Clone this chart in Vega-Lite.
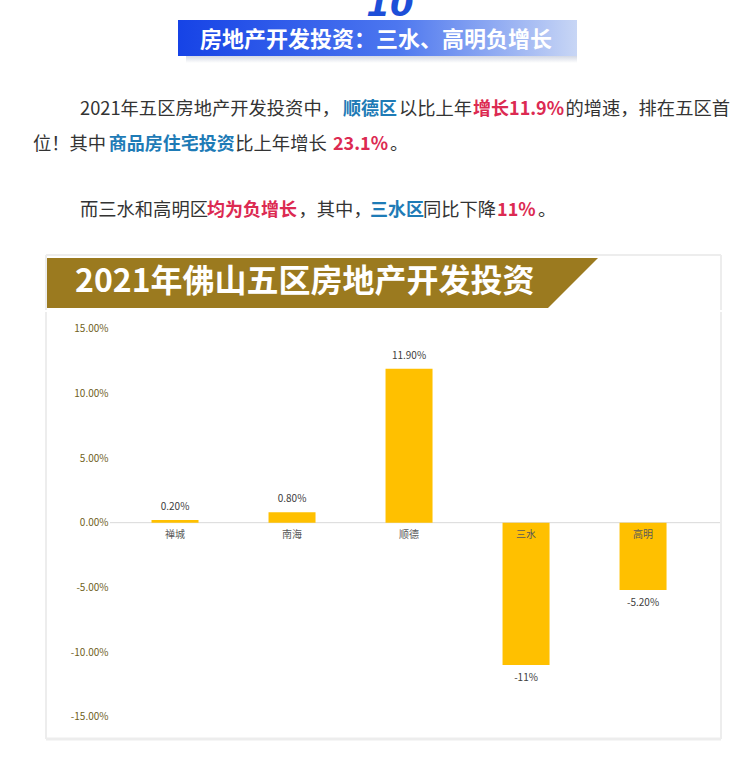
{
  "$schema": "https://vega.github.io/schema/vega-lite/v6.json",
  "padding": 0,
  "spacing": 0,
  "background": "white",
  "config": {"view": {"stroke": null}, "concat": {"spacing": 0}},
  "datasets": {
    "one": [{}],
    "para": [
      {"line": 1, "col": 0, "tone": "plain", "text": "2021年五区房地产开发投资中，"},
      {"line": 1, "col": 14.14, "tone": "blue", "text": "顺德区"},
      {"line": 1, "col": 17.15, "tone": "plain", "text": "以比上年"},
      {"line": 1, "col": 21.13, "tone": "red", "text": "增长11.9%"},
      {"line": 1, "col": 26.1, "tone": "plain", "text": "的增速，排在五区首"},
      {"line": 2, "col": -2.53, "tone": "plain", "text": "位！其中"},
      {"line": 2, "col": 1.55, "tone": "blue", "text": "商品房住宅投资"},
      {"line": 2, "col": 8.35, "tone": "plain", "text": "比上年增长"},
      {"line": 2, "col": 13.6, "tone": "red", "text": "23.1%"},
      {"line": 2, "col": 16.67, "tone": "plain", "text": "。"},
      {"line": 3, "col": 0, "tone": "plain", "text": "而三水和高明区"},
      {"line": 3, "col": 6.83, "tone": "red", "text": "均为负增长"},
      {"line": 3, "col": 11.75, "tone": "plain", "text": "，其中，"},
      {"line": 3, "col": 15.59, "tone": "blue", "text": "三水区"},
      {"line": 3, "col": 18.44, "tone": "plain", "text": "同比下降"},
      {"line": 3, "col": 22.42, "tone": "red", "text": "11%"},
      {"line": 3, "col": 24.62, "tone": "plain", "text": "。"}
    ],
    "invest": [
      {"district": "禅城", "value": 0.2, "label": "0.20%"},
      {"district": "南海", "value": 0.8, "label": "0.80%"},
      {"district": "顺德", "value": 11.9, "label": "11.90%"},
      {"district": "三水", "value": -11, "label": "-11%"},
      {"district": "高明", "value": -5.2, "label": "-5.20%"}
    ]
  },
  "vconcat": [
    {
      "width": 746,
      "height": 250,
      "layer": [
        {
          "data": {"name": "one"},
          "mark": {"type": "rect", "color": {"gradient": "linear", "x1": 0, "y1": 0, "x2": 0, "y2": 1, "stops": [{"offset": 0, "color": "#d3d8e4"}, {"offset": 1, "color": "#ffffff"}]}},
          "encoding": {"x": {"value": 186}, "x2": {"value": 577}, "y": {"value": 56}, "y2": {"value": 63}}
        },
        {
          "data": {"name": "one"},
          "mark": {"type": "rect", "color": {"gradient": "linear", "x1": 0, "y1": 0, "x2": 1, "y2": 0, "stops": [{"offset": 0, "color": "#1643e6"}, {"offset": 0.55, "color": "#4d77ef"}, {"offset": 1, "color": "#c8d6f5"}]}},
          "encoding": {"x": {"value": 178}, "x2": {"value": 577}, "y": {"value": 20}, "y2": {"value": 56}}
        },
        {
          "data": {"name": "one"},
          "mark": {"type": "text", "clip": true, "font": "DejaVu Sans", "fontSize": 34, "fontStyle": "italic", "fontWeight": "bold", "color": "#1d4fd8", "align": "center", "baseline": "alphabetic"},
          "encoding": {"x": {"value": 390}, "y": {"value": 16}, "text": {"value": "10"}}
        },
        {
          "data": {"name": "one"},
          "mark": {"type": "text", "font": "Noto Sans CJK SC", "fontSize": 22, "fontWeight": "bold", "color": "#ffffff", "align": "center", "baseline": "middle"},
          "encoding": {"x": {"value": 376}, "y": {"value": 40}, "text": {"value": "房地产开发投资：三水、高明负增长"}}
        },
        {
          "data": {"name": "para"},
          "transform": [{"filter": "datum.tone == 'plain'"}],
          "mark": {"type": "text", "font": "Noto Sans CJK SC", "fontSize": 18.3, "align": "left", "baseline": "middle", "color": "#333333"},
          "encoding": {
            "x": {"field": "col", "type": "quantitative", "scale": {"domain": [-4.301, 35.806], "range": [0, 746], "zero": false, "nice": false}, "axis": null},
            "y": {"field": "line", "type": "quantitative", "scale": {"domain": [1, 2, 3], "range": [110, 145, 211], "zero": false, "nice": false}, "axis": null},
            "text": {"field": "text"}
          }
        },
        {
          "data": {"name": "para"},
          "transform": [{"filter": "datum.tone != 'plain'"}],
          "mark": {"type": "text", "font": "Noto Sans CJK SC", "fontSize": 18, "fontWeight": "bold", "align": "left", "baseline": "middle"},
          "encoding": {
            "x": {"field": "col", "type": "quantitative", "scale": {"domain": [-4.301, 35.806], "range": [0, 746], "zero": false, "nice": false}, "axis": null},
            "y": {"field": "line", "type": "quantitative", "scale": {"domain": [1, 2, 3], "range": [110, 145, 211], "zero": false, "nice": false}, "axis": null},
            "color": {"field": "tone", "type": "nominal", "scale": {"domain": ["blue", "red"], "range": ["#1e7bb6", "#dc2a52"]}, "legend": null},
            "text": {"field": "text"}
          }
        }
      ]
    },
    {
      "width": 746,
      "height": 60,
      "layer": [
        {
          "data": {"name": "one"},
          "mark": {"type": "rule", "color": "#ededed", "strokeWidth": 2},
          "encoding": {"x": {"value": 46}, "x2": {"value": 721}, "y": {"value": 5}}
        },
        {
          "data": {"name": "one"},
          "mark": {"type": "rule", "color": "#ededed", "strokeWidth": 2},
          "encoding": {"x": {"value": 46}, "y": {"value": 5}, "y2": {"value": 60}}
        },
        {
          "data": {"name": "one"},
          "mark": {"type": "rule", "color": "#ededed", "strokeWidth": 2},
          "encoding": {"x": {"value": 721}, "y": {"value": 5}, "y2": {"value": 60}}
        },
        {
          "data": {"name": "one"},
          "mark": {"type": "point", "shape": "M0,0 L551,0 L501,50 L0,50 Z", "size": 4, "filled": true, "opacity": 1, "color": "#9b7a1f", "strokeWidth": 0},
          "encoding": {"x": {"value": 47}, "y": {"value": 8}}
        },
        {
          "data": {"name": "one"},
          "mark": {"type": "text", "font": "Noto Sans CJK SC", "fontSize": 32, "fontWeight": "bold", "color": "#ffffff", "align": "left", "baseline": "middle"},
          "encoding": {"x": {"value": 75}, "y": {"value": 32}, "text": {"value": "2021年佛山五区房地产开发投资"}}
        }
      ]
    },
    {
      "width": 746,
      "height": 474,
      "data": {"name": "invest"},
      "layer": [
        {
          "data": {"name": "one"},
          "mark": {"type": "rule", "color": "#ededed", "strokeWidth": 2},
          "encoding": {"x": {"value": 46}, "y": {"value": 0}, "y2": {"value": 427}}
        },
        {
          "data": {"name": "one"},
          "mark": {"type": "rule", "color": "#ededed", "strokeWidth": 2},
          "encoding": {"x": {"value": 721}, "y": {"value": 0}, "y2": {"value": 427}}
        },
        {
          "data": {"name": "one"},
          "mark": {"type": "rule", "color": "#ededed", "strokeWidth": 3},
          "encoding": {"x": {"value": 46}, "x2": {"value": 721}, "y": {"value": 427}}
        },
        {
          "data": {"name": "one"},
          "mark": {"type": "rule", "color": "#d9d9d9", "strokeWidth": 1},
          "encoding": {
            "x": {"value": 110}, "x2": {"value": 720},
            "y": {"datum": 0, "type": "quantitative", "scale": {"domain": [-20.36, 16.29], "nice": false, "zero": false}, "axis": {"values": [-15, -10, -5, 0, 5, 10, 15], "labelExpr": "replace(format(datum.value / 100, '.2%'), '−', '-')", "offset": -108, "domain": false, "ticks": false, "grid": false, "tickSize": 0, "labelPadding": 0, "title": null, "labelColor": "#6f5f1d", "labelFontSize": 10, "labelFont": "Noto Sans CJK SC", "minExtent": 0}}
          }
        },
        {
          "mark": {"type": "bar", "color": "#ffc000"},
          "encoding": {
            "x": {"field": "district", "type": "nominal", "sort": null, "scale": {"type": "band", "domain": ["禅城", "南海", "顺德", "三水", "高明"], "paddingInner": 0.5983, "paddingOuter": 0.987, "align": 0.656}, "axis": null},
            "y": {"field": "value", "type": "quantitative", "scale": {"domain": [-20.36, 16.29], "nice": false, "zero": false}, "axis": {"values": [-15, -10, -5, 0, 5, 10, 15], "labelExpr": "replace(format(datum.value / 100, '.2%'), '−', '-')", "offset": -108, "domain": false, "ticks": false, "grid": false, "tickSize": 0, "labelPadding": 0, "title": null, "labelColor": "#6f5f1d", "labelFontSize": 10, "labelFont": "Noto Sans CJK SC", "minExtent": 0}}
          }
        },
        {
          "mark": {"type": "text", "font": "Noto Sans CJK SC", "fontSize": 10, "color": "#595959", "baseline": "middle", "dy": 12},
          "encoding": {
            "x": {"field": "district", "type": "nominal", "sort": null, "scale": {"type": "band", "domain": ["禅城", "南海", "顺德", "三水", "高明"], "paddingInner": 0.5983, "paddingOuter": 0.987, "align": 0.656}, "axis": null},
            "y": {"datum": 0, "type": "quantitative", "scale": {"domain": [-20.36, 16.29], "nice": false, "zero": false}, "axis": {"values": [-15, -10, -5, 0, 5, 10, 15], "labelExpr": "replace(format(datum.value / 100, '.2%'), '−', '-')", "offset": -108, "domain": false, "ticks": false, "grid": false, "tickSize": 0, "labelPadding": 0, "title": null, "labelColor": "#6f5f1d", "labelFontSize": 10, "labelFont": "Noto Sans CJK SC", "minExtent": 0}},
            "text": {"field": "district"}
          }
        },
        {
          "transform": [{"filter": "datum.value > 0"}],
          "mark": {"type": "text", "font": "Noto Sans CJK SC", "fontSize": 10, "color": "#404040", "baseline": "middle", "dy": -13},
          "encoding": {
            "x": {"field": "district", "type": "nominal", "sort": null, "scale": {"type": "band", "domain": ["禅城", "南海", "顺德", "三水", "高明"], "paddingInner": 0.5983, "paddingOuter": 0.987, "align": 0.656}, "axis": null},
            "y": {"field": "value", "type": "quantitative", "scale": {"domain": [-20.36, 16.29], "nice": false, "zero": false}, "axis": {"values": [-15, -10, -5, 0, 5, 10, 15], "labelExpr": "replace(format(datum.value / 100, '.2%'), '−', '-')", "offset": -108, "domain": false, "ticks": false, "grid": false, "tickSize": 0, "labelPadding": 0, "title": null, "labelColor": "#6f5f1d", "labelFontSize": 10, "labelFont": "Noto Sans CJK SC", "minExtent": 0}},
            "text": {"field": "label"}
          }
        },
        {
          "transform": [{"filter": "datum.value < 0"}],
          "mark": {"type": "text", "font": "Noto Sans CJK SC", "fontSize": 10, "color": "#404040", "baseline": "middle", "dy": 13},
          "encoding": {
            "x": {"field": "district", "type": "nominal", "sort": null, "scale": {"type": "band", "domain": ["禅城", "南海", "顺德", "三水", "高明"], "paddingInner": 0.5983, "paddingOuter": 0.987, "align": 0.656}, "axis": null},
            "y": {"field": "value", "type": "quantitative", "scale": {"domain": [-20.36, 16.29], "nice": false, "zero": false}, "axis": {"values": [-15, -10, -5, 0, 5, 10, 15], "labelExpr": "replace(format(datum.value / 100, '.2%'), '−', '-')", "offset": -108, "domain": false, "ticks": false, "grid": false, "tickSize": 0, "labelPadding": 0, "title": null, "labelColor": "#6f5f1d", "labelFontSize": 10, "labelFont": "Noto Sans CJK SC", "minExtent": 0}},
            "text": {"field": "label"}
          }
        }
      ]
    }
  ]
}
